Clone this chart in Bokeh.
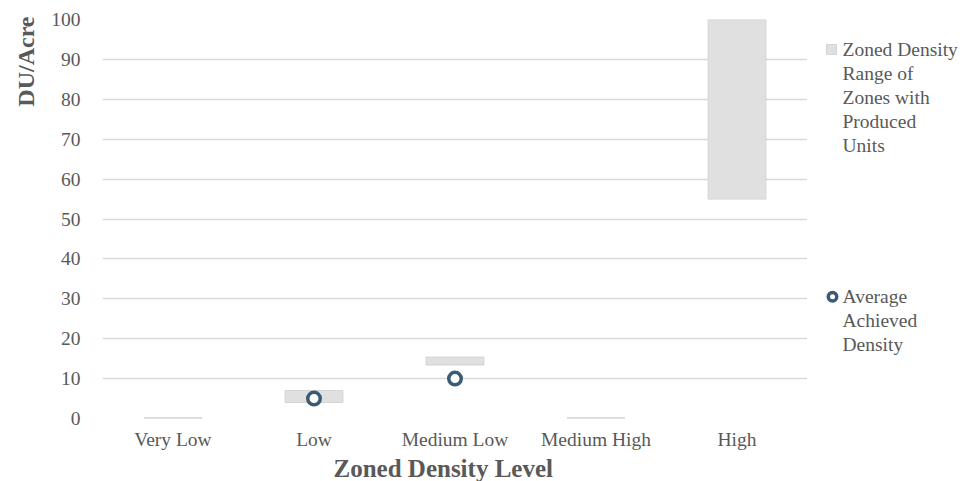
from bokeh.plotting import figure
from bokeh.layouts import row
from bokeh.models import FactorRange, Range1d, FixedTicker, ColumnDataSource, Title
from bokeh.core.properties import value
from bokeh.embed import file_html
from bokeh.resources import INLINE

categories = ["Very Low", "Low", "Medium Low", "Medium High", "High"]
range_low = [0.0, 4.0, 13.4, 0.0, 55.0]
range_high = [0.2, 7.0, 15.4, 0.2, 100.0]
avg_density = [float("nan"), 5.0, 10.0, float("nan"), float("nan")]
y_ticks = [0, 10, 20, 30, 40, 50, 60, 70, 80, 90, 100]
legend_range_lines = ["Zoned Density", "Range of", "Zones with", "Produced", "Units"]
legend_avg_lines = ["Average", "Achieved", "Density"]

FONT = "Liberation Serif"
TXT = "#595959"
BAR_FILL = "#e0e0e0"
BAR_LINE = "#d4d4d4"
PT_LINE = "#3b5b74"

src = ColumnDataSource(dict(cat=categories, lo=range_low, hi=range_high, avg=avg_density))

y_rng = Range1d(0, 100)
p = figure(x_range=FactorRange(*categories, range_padding=0), y_range=y_rng,
           width=807, height=481, output_backend="svg", toolbar_location=None,
           min_border_left=102, min_border_right=0, min_border_top=19, min_border_bottom=62)
p.outline_line_color = None

p.vbar(x="cat", bottom="lo", top="hi", width=0.41, source=src,
       fill_color=BAR_FILL, line_color=BAR_LINE, line_width=1)
p.scatter(x="cat", y="avg", source=src, size=12.5, marker="circle",
          fill_color="white", line_color=PT_LINE, line_width=3.5)

p.xgrid.grid_line_color = None
p.ygrid.grid_line_color = "#d9d9d9"
p.ygrid.grid_line_width = 1.3
p.yaxis.ticker = FixedTicker(ticks=y_ticks)

for ax in (p.xaxis[0], p.yaxis[0]):
    ax.axis_line_color = None
    ax.major_tick_line_color = None
    ax.minor_tick_line_color = None
    ax.major_tick_out = 0
    ax.major_tick_in = 0
    ax.major_label_text_font = FONT
    ax.major_label_text_font_size = "19.5px"
    ax.major_label_text_color = TXT

p.yaxis.major_label_standoff = 22
p.xaxis.major_label_standoff = 10

p.add_layout(Title(text="DU/Acre", align="right", offset=-3, standoff=20,
                   text_font=FONT, text_font_style="bold", text_font_size="24px",
                   text_color=TXT), "left")
p.add_layout(Title(text="Zoned Density Level", align="left", offset=231, standoff=0,
                   text_font=FONT, text_font_style="bold", text_font_size="25px",
                   text_color=TXT), "below")

# legend panel: shares the chart's vertical scale (row aligns the frames)
lf = figure(width=155, height=481, output_backend="svg", toolbar_location=None,
            x_range=Range1d(0, 155), y_range=y_rng,
            x_axis_type=None, y_axis_type=None,
            min_border_left=0, min_border_right=0, min_border_top=19, min_border_bottom=62)
lf.outline_line_color = None
lf.grid.visible = False

LINE_H = 6.0  # in chart units (4 px per unit)
y1 = [92.5 - i * LINE_H for i in range(len(legend_range_lines))]
y2 = [30.5 - i * LINE_H for i in range(len(legend_avg_lines))]
lf.text(x=[35] * len(y1), y=y1, text=legend_range_lines, text_font=value(FONT),
        text_font_size="19.5px", text_color=TXT, text_baseline="middle", text_align="left")
lf.text(x=[35] * len(y2), y=y2, text=legend_avg_lines, text_font=value(FONT),
        text_font_size="19.5px", text_color=TXT, text_baseline="middle", text_align="left")
lf.scatter(x=[24], y=[y1[0]], marker="square", size=10, fill_color=BAR_FILL,
           line_color=BAR_LINE, line_width=1)
lf.scatter(x=[25], y=[y2[0]], marker="circle", size=8.5, fill_color="white",
           line_color=PT_LINE, line_width=3.5)

layout = row(p, lf, spacing=0)
open("out.html", "w").write(file_html(layout, INLINE))
